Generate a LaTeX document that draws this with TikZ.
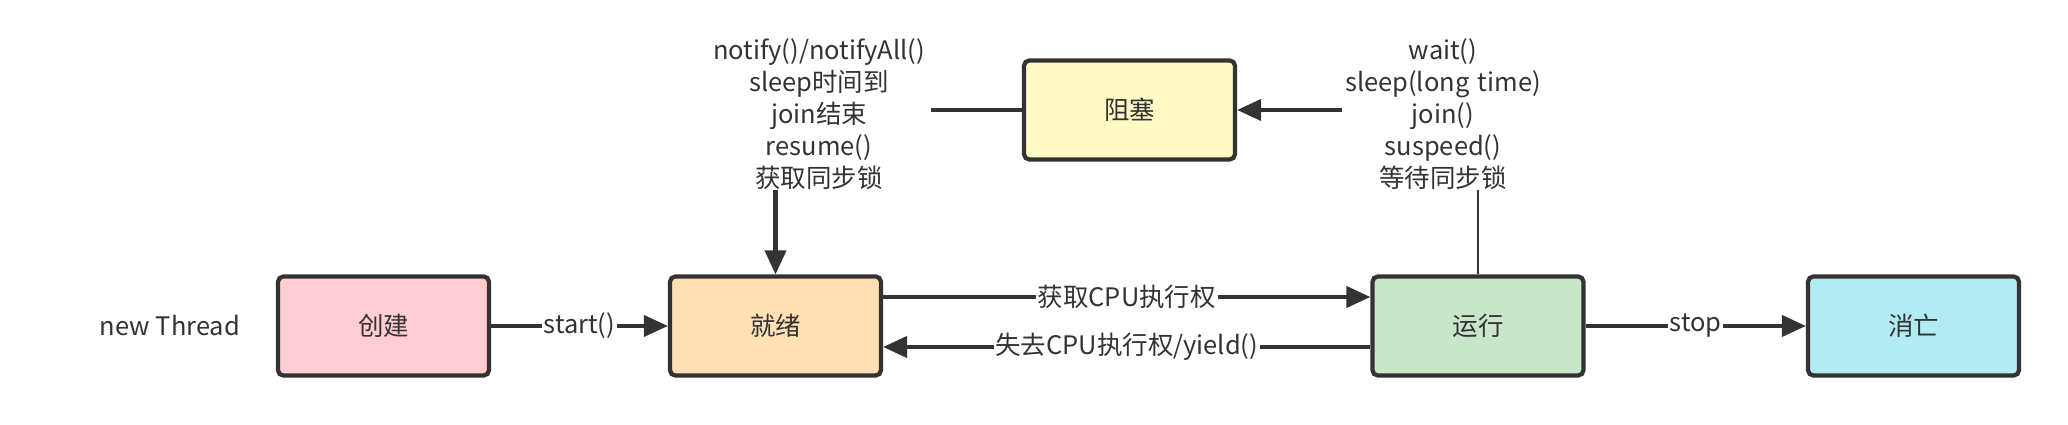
\documentclass[tikz,border=0pt]{standalone}
\usepackage{fontspec}
\setmainfont{Noto Sans CJK SC}
\usetikzlibrary{arrows.meta}
\definecolor{linegray}{HTML}{333333}
\definecolor{newpink}{HTML}{FFCDD2}
\definecolor{readyorange}{HTML}{FFE0B2}
\definecolor{blockyellow}{HTML}{FFF9C4}
\definecolor{rungreen}{HTML}{C8E6C9}
\definecolor{deadcyan}{HTML}{B2EBF2}

\begin{document}
\begin{tikzpicture}[
    node distance=7.84cm,
    font=\fontsize{14.5pt}{18.2pt}\selectfont,
    text=linegray,
    state/.style={rectangle, draw=linegray, line width=2.4pt, rounded corners=3pt, minimum width=4.22cm, minimum height=1.98cm},
    arrow/.style={-{Triangle[length=0.48cm, width=0.42cm]}, line width=2.3pt, draw=linegray},
    link/.style={line width=2.3pt, draw=linegray},
    thinlink/.style={line width=1.4pt, draw=linegray},
    cause/.style={align=center, inner sep=0pt},
    edgelabel/.style={fill=white, inner sep=1pt}
]
    \useasboundingbox (0,0) rectangle (41.36,8.5);

    \node [state, fill=newpink] (create) at (7.67,1.98) {创建};
    \node [state, fill=readyorange, right of=create] (ready) {就绪};
    \node [state, fill=rungreen, right of=ready, xshift=6.21cm] (run) {运行};
    \node [state, fill=deadcyan, right of=run, xshift=0.87cm] (dead) {消亡};
    \node [state, fill=blockyellow] (block) at (22.59,6.30) {阻塞};

    \node (newthread) at (3.4,1.98) {new Thread};

    % Causes of blocking / waking up
    \node [cause, text width=4.46cm] (wake) at (16.38,6.22) {notify()/notifyAll()\\ sleep时间到\\ join结束\\ resume()\\ 获取同步锁};
    \node [cause, text width=4.04cm] (sleep) at (28.86,6.22) {wait()\\ sleep(long time)\\ join()\\ suspeed()\\ 等待同步锁};

    \draw [arrow] (create) -- node[edgelabel] {start()} (ready);
    \draw [arrow] ([yshift=0.58cm]ready.east) -- node[edgelabel] {获取CPU执行权} ([yshift=0.58cm]run.west);
    \draw [arrow] ([yshift=-0.42cm]run.west) -- node[edgelabel] {失去CPU执行权/yield()} ([yshift=-0.42cm]ready.east);
    \draw [arrow] (run) -- node[edgelabel] {stop} (dead);

    \draw [thinlink] (run.north) -- (run.north |- sleep.south);
    \draw [arrow] (block.east -| sleep.west) -- (block.east);
    \draw [link] (block.west) -- (block.west -| wake.east);
    \draw [arrow] (ready.north |- wake.south) -- (ready.north);

\end{tikzpicture}
\end{document}
